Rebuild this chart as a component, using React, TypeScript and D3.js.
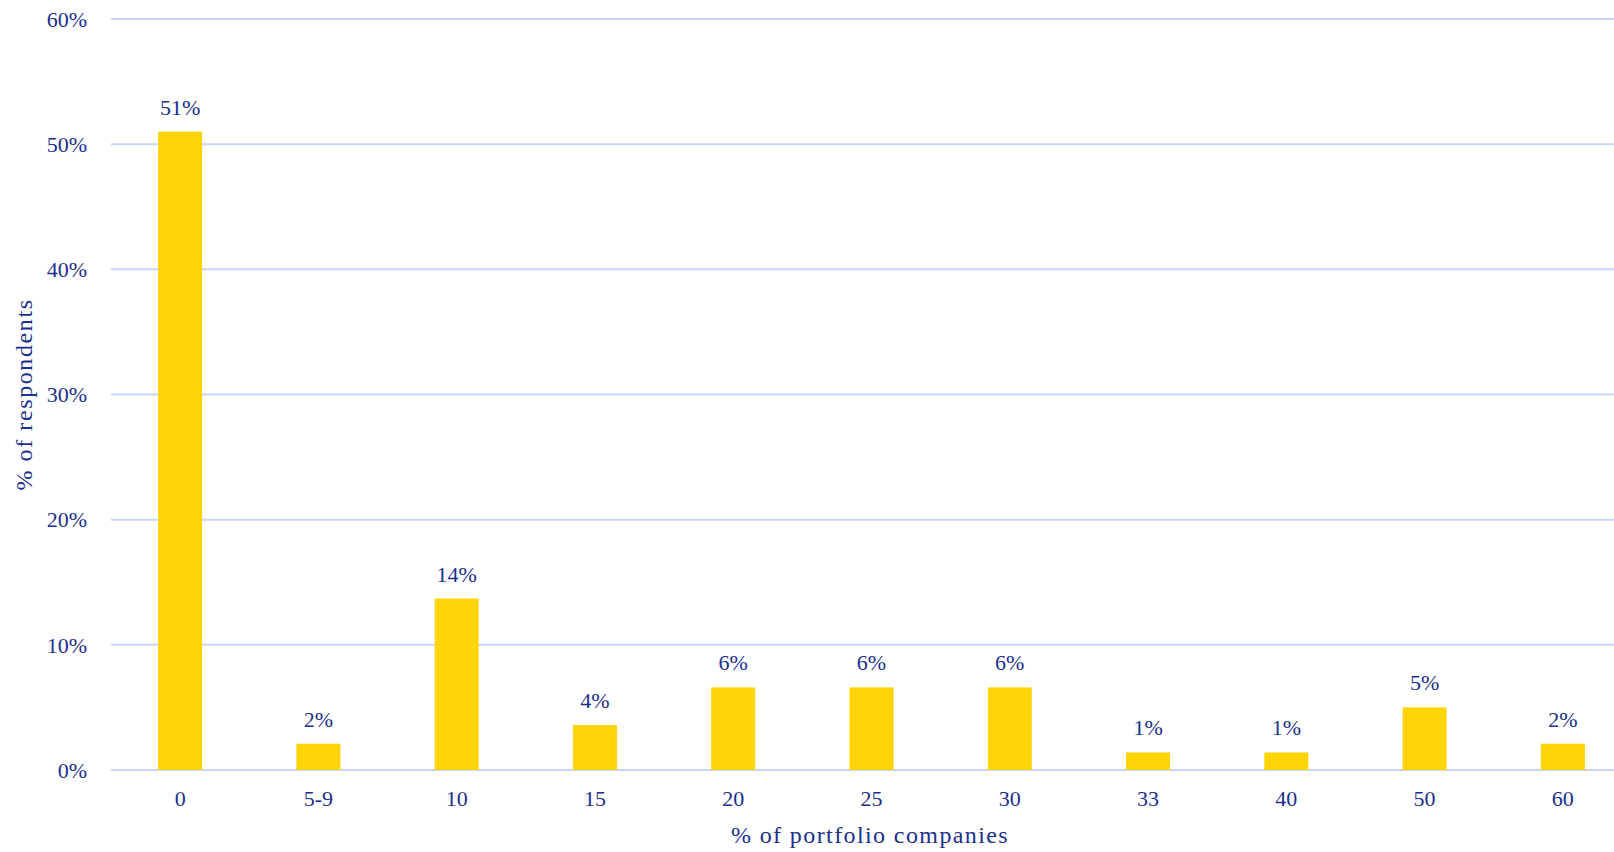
import React from "react";
import * as d3 from "d3";

const categories = ["0", "5-9", "10", "15", "20", "25", "30", "33", "40", "50", "60"];
const values = [51.0, 2.1, 13.7, 3.6, 6.6, 6.6, 6.6, 1.4, 1.4, 5.0, 2.1];
const valueLabels = ["51%", "2%", "14%", "4%", "6%", "6%", "6%", "1%", "1%", "5%", "2%"];
const yTicks = [0, 10, 20, 30, 40, 50, 60];

const W = 1614;
const H = 852;
const left = 111;
const right = 1632;
const top = 19;
const bottom = 770;

const TEXT = "#1b2f8c";
const GRID = "#c8d4f8";
const BAR = "#fdd405";
const FONT = "'Liberation Serif', 'Times New Roman', serif";

export default function App() {
  const x = d3.scaleBand<string>().domain(categories).range([left, right]).paddingInner(0).paddingOuter(0);
  const y = d3.scaleLinear().domain([0, 60]).range([bottom, top]);
  const barW = 44;
  return (
    <svg width={W} height={H} style={{ position: "absolute", left: 0, top: 0, background: "#fff" }}>
      <g>
        {yTicks.map((t) => (
          <g key={t}>
            <line x1={left} x2={right} y1={y(t)} y2={y(t)} stroke={GRID} strokeWidth={2} />
            <text x={87} y={y(t)} dy="0.35em" textAnchor="end" fontFamily={FONT} fontSize={22} fill={TEXT}>
              {t}%
            </text>
          </g>
        ))}
      </g>
      <g>
        {categories.map((c, i) => {
          const cx = (x(c) as number) + x.bandwidth() / 2;
          return (
            <g key={c}>
              <rect x={cx - barW / 2} y={y(values[i])} width={barW} height={bottom - y(values[i])} fill={BAR} />
              <text x={cx} y={y(values[i]) - 17} textAnchor="middle" fontFamily={FONT} fontSize={22} fill={TEXT}>
                {valueLabels[i]}
              </text>
              <text x={cx} y={806} textAnchor="middle" fontFamily={FONT} fontSize={22} fill={TEXT}>
                {c}
              </text>
            </g>
          );
        })}
      </g>
      <text x={870} y={843} textAnchor="middle" fontFamily={FONT} fontSize={24} letterSpacing={1.4} fill={TEXT}>
        % of portfolio companies
      </text>
      <text
        transform={`translate(32, ${(top + bottom) / 2}) rotate(-90)`}
        textAnchor="middle"
        fontFamily={FONT}
        fontSize={24}
        letterSpacing={1.6}
        fill={TEXT}
      >
        % of respondents
      </text>
    </svg>
  );
}
